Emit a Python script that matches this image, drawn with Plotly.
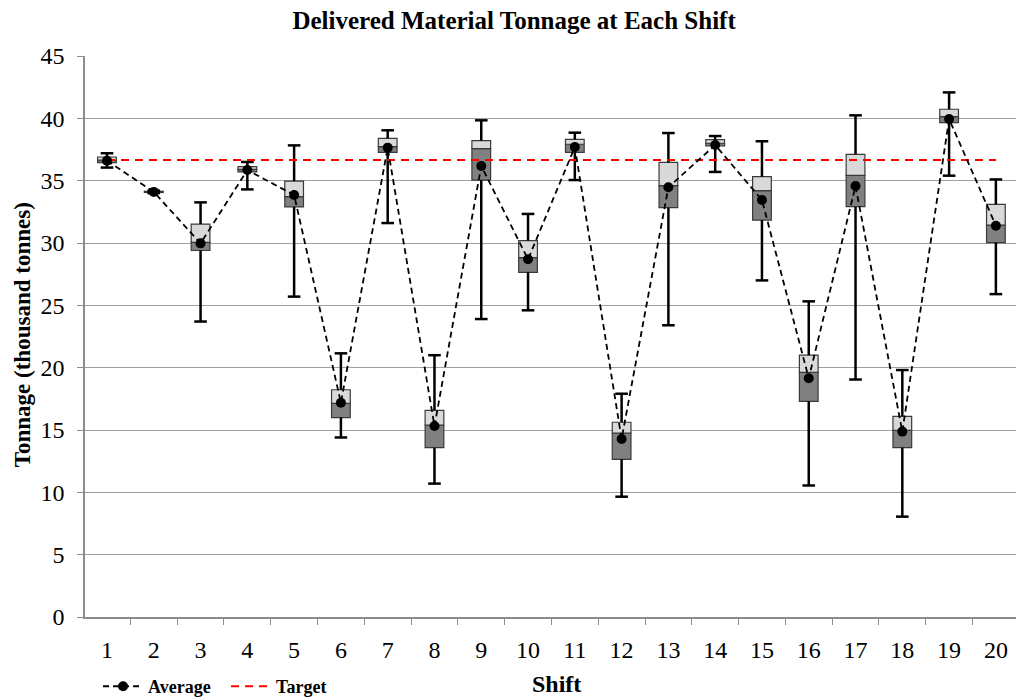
import plotly.graph_objects as go

shifts = list(range(1, 21))
mins = [36.05, 34.0, 23.7, 34.3, 25.7, 14.4, 31.6, 10.7, 23.9, 24.6,
        35.05, 9.65, 23.4, 35.7, 27.0, 10.55, 19.05, 8.05, 35.4, 25.9]
q1 = [36.45, 34.05, 29.4, 35.7, 32.9, 16.0, 37.27, 13.58, 35.05, 27.65,
      37.27, 12.65, 32.83, 37.78, 31.84, 17.3, 32.91, 13.58, 39.65, 30.03]
medians = [36.65, 34.1, 30.05, 35.9, 33.72, 17.14, 37.73, 15.4, 37.57, 28.82,
           37.92, 14.76, 34.6, 38.0, 34.2, 19.63, 35.43, 14.97, 40.13, 31.44]
q3 = [36.9, 34.15, 31.52, 36.12, 34.97, 18.23, 38.4, 16.58, 38.21, 30.19,
      38.32, 15.62, 36.47, 38.29, 35.32, 21.0, 37.11, 16.1, 40.73, 33.1]
maxs = [37.2, 34.2, 33.26, 36.5, 37.83, 21.15, 39.04, 21.0, 39.84, 32.33,
        38.85, 17.91, 38.82, 38.58, 38.16, 25.32, 40.24, 19.81, 42.08, 35.1]
averages = [36.6, 34.1, 29.97, 35.85, 33.85, 17.19, 37.65, 15.32, 36.18, 28.69,
            37.7, 14.28, 34.47, 37.86, 33.45, 19.15, 34.57, 14.87, 39.95, 31.39]
target = 36.65

FONT = "Liberation Serif"
fig = go.Figure()

# whiskers (segments min->q1 and q3->max)
wx, wy = [], []
for s, lo, a, b, hi in zip(shifts, mins, q1, q3, maxs):
    wx += [s, s, None, s, s, None]
    wy += [lo, a, None, b, hi, None]
fig.add_trace(go.Scatter(x=wx, y=wy, mode="lines", line=dict(color="black", width=2.5),
                         showlegend=False, hoverinfo="skip"))
# whisker caps
fig.add_trace(go.Scatter(x=shifts + shifts, y=mins + maxs, mode="markers",
                         marker=dict(symbol="line-ew", size=9, line=dict(color="black", width=2.5)),
                         showlegend=False, hoverinfo="skip"))

# lower box (q1 -> median)
fig.add_trace(go.Bar(x=shifts, y=[m - a for m, a in zip(medians, q1)], base=q1, width=0.4,
                     marker=dict(color="#808080", line=dict(color="#3a3a3a", width=1.2)),
                     showlegend=False))
# upper box (median -> q3)
fig.add_trace(go.Bar(x=shifts, y=[b - m for b, m in zip(q3, medians)], base=medians, width=0.4,
                     marker=dict(color="#d9d9d9", line=dict(color="#3a3a3a", width=1.2)),
                     showlegend=False))

# target line
fig.add_trace(go.Scatter(x=shifts, y=[target] * len(shifts), mode="lines", name="Target",
                         legend="legend2",
                         line=dict(color="#ff0000", width=2, dash="8px,6px")))
# average line
fig.add_trace(go.Scatter(x=shifts, y=averages, mode="lines+markers", name="Average",
                         legend="legend",
                         line=dict(color="black", width=1.8, dash="6px,4px"),
                         marker=dict(color="black", size=10)))

legend_font = dict(family=FONT, size=18, weight="bold", color="black")
fig.update_layout(
    width=1016, height=697,
    margin=dict(l=85, r=0, t=56, b=80, autoexpand=False),
    paper_bgcolor="white", plot_bgcolor="white",
    barmode="overlay",
    font=dict(family=FONT, color="black", size=22),
    title=dict(text="<b>Delivered Material Tonnage at Each Shift</b>",
               x=0.506, xanchor="center", y=0.971, yanchor="middle",
               font=dict(family=FONT, size=25, color="black")),
    legend=dict(orientation="h", x=0.014, y=-0.124, xanchor="left", yanchor="middle",
                font=legend_font, itemwidth=40, bgcolor="rgba(0,0,0,0)"),
    legend2=dict(orientation="h", x=0.1515, y=-0.124, xanchor="left", yanchor="middle",
                 font=legend_font, itemwidth=40, bgcolor="rgba(0,0,0,0)"),
    showlegend=True,
)
fig.update_xaxes(range=[0.53, 20.43], tickmode="array", tickvals=shifts,
                 ticktext=[str(s) for s in shifts], ticks="",
                 showgrid=False, showline=True, linecolor="#8c8c8c", linewidth=1.5,
                 zeroline=False, tickfont=dict(family=FONT, size=24, color="black"),
                 ticklabelstandoff=10,
                 minor=dict(ticks="outside", tick0=0.5, dtick=1, ticklen=6,
                            tickcolor="#8c8c8c", showgrid=False))
fig.update_yaxes(range=[0, 45], tick0=0, dtick=5, ticks="outside", ticklen=6,
                 tickcolor="#8c8c8c", showgrid=True, gridcolor="#a0a0a0", gridwidth=1.2,
                 showline=True, linecolor="#8c8c8c", linewidth=1.5, zeroline=False,
                 tickfont=dict(family=FONT, size=24, color="black"), ticklabelstandoff=8)
fig.add_annotation(text="<b>Tonnage (thousand tonnes)</b>", textangle=-90,
                   x=-0.0677, y=0.504, xref="paper", yref="paper", showarrow=False,
                   font=dict(family=FONT, size=23, color="black"),
                   xanchor="center", yanchor="middle")
fig.add_annotation(text="<b>Shift</b>", x=0.506, y=-0.12, xref="paper", yref="paper",
                   showarrow=False, font=dict(family=FONT, size=24, color="black"),
                   xanchor="center", yanchor="middle")

fig.write_html("out.html")
